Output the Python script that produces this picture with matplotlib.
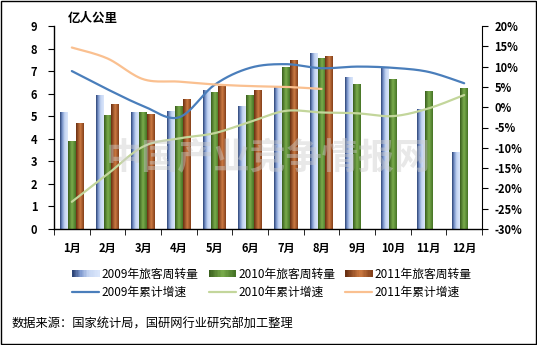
import matplotlib
matplotlib.use('Agg')
import matplotlib.pyplot as plt
import numpy as np
from matplotlib.patches import Rectangle
from matplotlib.lines import Line2D
from matplotlib.legend_handler import HandlerBase
from matplotlib.colors import LinearSegmentedColormap

plt.rcParams['font.family'] = ['Noto Sans CJK SC', 'DejaVu Sans']

months = ['1月', '2月', '3月', '4月', '5月', '6月', '7月', '8月', '9月', '10月', '11月', '12月']
vol_2009 = [5.17, 5.90, 5.17, 5.23, 6.12, 5.45, 6.31, 7.79, 6.70, 7.12, 5.28, 3.41]
vol_2010 = [3.90, 5.01, 5.17, 5.45, 6.06, 5.94, 7.14, 7.54, 6.39, 6.61, 6.08, 6.21]
vol_2011 = [4.69, 5.50, 5.06, 5.76, 6.31, 6.16, 7.49, 7.63]
growth_2009 = [8.9, 4.4, 0.3, -2.5, 5.5, 9.7, 10.6, 9.6, 10.0, 9.7, 8.7, 5.9]
growth_2010 = [-23.3, -16.5, -9.7, -7.7, -6.4, -3.6, -0.9, -1.3, -1.5, -2.2, -0.3, 3.0]
growth_2011 = [14.7, 12.0, 6.9, 6.3, 5.6, 5.2, 5.0, 4.5]
bar_labels = ['2009年旅客周转量', '2010年旅客周转量', '2011年旅客周转量']
line_labels = ['2009年累计增速', '2010年累计增速', '2011年累计增速']

cmaps = [
    LinearSegmentedColormap.from_list('b', [(0, '#2e4678'), (0.3, '#7f99cf'), (0.6, '#c5d5f2'), (1, '#dae6fb')]),
    LinearSegmentedColormap.from_list('g', [(0, '#3a5f1e'), (0.5, '#7aac4c'), (1, '#467426')]),
    LinearSegmentedColormap.from_list('r', [(0, '#6a3012'), (0.55, '#cc7a42'), (1, '#84401a')]),
]
line_colors = ['#4a7ebb', '#c3d69b', '#fac090']


def smooth(y, n=24):
    # catmull-rom curve through the points, like excel's smoothed line
    pts = np.column_stack([np.arange(len(y)), y]).astype(float)
    p = np.vstack([pts[0], pts, pts[-1]])
    out = []
    t = np.linspace(0, 1, n, endpoint=False)[:, None]
    for i in range(1, len(p) - 2):
        p0, p1, p2, p3 = p[i - 1], p[i], p[i + 1], p[i + 2]
        out.append(0.5 * (2 * p1 + (-p0 + p2) * t + (2 * p0 - 5 * p1 + 4 * p2 - p3) * t ** 2
                          + (-p0 + 3 * p1 - 3 * p2 + p3) * t ** 3))
    out.append(pts[-1:])
    s = np.vstack(out)
    return s[:, 0], s[:, 1]


class GradHandler(HandlerBase):
    def __init__(self, cmap):
        super().__init__()
        self.cmap = cmap

    def create_artists(self, legend, orig, xd, yd, w, h, fs, trans):
        arts = []
        k = 20
        for i in range(k):
            arts.append(Rectangle((xd + w * i / k, yd + h * 0.1), w / k + 0.3, h * 0.8,
                                  facecolor=self.cmap(i / (k - 1)), edgecolor='none', transform=trans))
        return arts


fig = plt.figure(figsize=(5.37, 3.45), dpi=100)
ax = fig.add_axes([54 / 537, 1 - 229 / 345, 428 / 537, 203 / 345])

bw = 0.224
x = np.arange(12)
series = [vol_2009, vol_2010, vol_2011]
for k, vals in enumerate(series):
    xs = x[:len(vals)] + (k - 1) * bw
    bars = ax.bar(xs, vals, width=bw, color='none', edgecolor='none')
    for b in bars:
        ax.imshow(np.linspace(0, 1, 32).reshape(1, -1), cmap=cmaps[k], aspect='auto',
                  extent=(b.get_x(), b.get_x() + b.get_width(), 0, b.get_height()), zorder=2)

ax.set_xlim(-0.5, 11.5)
ax.set_ylim(0, 9)
ax.set_yticks(range(10))
ax.set_xticks(x)
ax.set_xticklabels(months)
ax.set_xticks(np.arange(-0.5, 12, 1), minor=True)
ax.tick_params(axis='x', which='major', length=0, pad=9)
ax.tick_params(axis='x', which='minor', length=4, direction='out', color='black')
ax.tick_params(axis='y', length=4, direction='out', pad=8)
for lab in ax.get_xticklabels() + ax.get_yticklabels():
    lab.set_fontweight('bold')
    lab.set_fontsize(8)
ax.spines['top'].set_visible(False)
ax.spines['right'].set_visible(False)
for s in ['left', 'bottom']:
    ax.spines[s].set_linewidth(1)

ax2 = ax.twinx()
line_handles = []
for k, g in enumerate([growth_2009, growth_2010, growth_2011]):
    sx, sy = smooth(g)
    ln, = ax2.plot(sx, sy, color=line_colors[k], lw=1.6, solid_capstyle='round')
    line_handles.append(ln)
ax2.set_ylim(-30, 20)
ax2.set_yticks(range(-30, 21, 5))
ax2.set_yticklabels([f'{v}%' for v in range(-30, 21, 5)])
ax2.tick_params(axis='y', length=4, direction='out', pad=5)
for lab in ax2.get_yticklabels():
    lab.set_fontweight('bold')
    lab.set_fontsize(8)
ax2.spines['top'].set_visible(False)
ax2.spines['left'].set_visible(False)
ax2.spines['bottom'].set_visible(False)

fig.text(68 / 537, 1 - 18 / 345, '亿人公里', fontsize=9, fontweight='bold', va='center')

# watermark
ax2.text(5.5, -12.5, '中国产业竞争情报网', fontsize=26, fontweight='bold', color='#cccccc',
         alpha=0.45, ha='center', va='center', zorder=10)

proxies = [Rectangle((0, 0), 1, 1) for _ in range(3)]
handles = [proxies[0], line_handles[0], proxies[1], line_handles[1], proxies[2], line_handles[2]]
labels = [bar_labels[0], line_labels[0], bar_labels[1], line_labels[1], bar_labels[2], line_labels[2]]
hmap = {proxies[k]: GradHandler(cmaps[k]) for k in range(3)}
fig.legend(handles, labels, handler_map=hmap, ncol=3, loc='center',
           bbox_to_anchor=(272 / 537, 1 - 283.5 / 345), frameon=False,
           prop={'size': 8.5}, handlelength=2.3, handletextpad=0.2,
           columnspacing=0.85, labelspacing=0.45)

fig.text(12 / 537, 1 - 324 / 345, '数据来源：国家统计局，国研网行业研究部加工整理', fontsize=8.8, va='center')

fig.patches.append(Rectangle((0.001, 0.002), 0.997, 0.996, transform=fig.transFigure,
                             fill=False, edgecolor='black', linewidth=1))

fig.savefig('out.png', dpi=100)
